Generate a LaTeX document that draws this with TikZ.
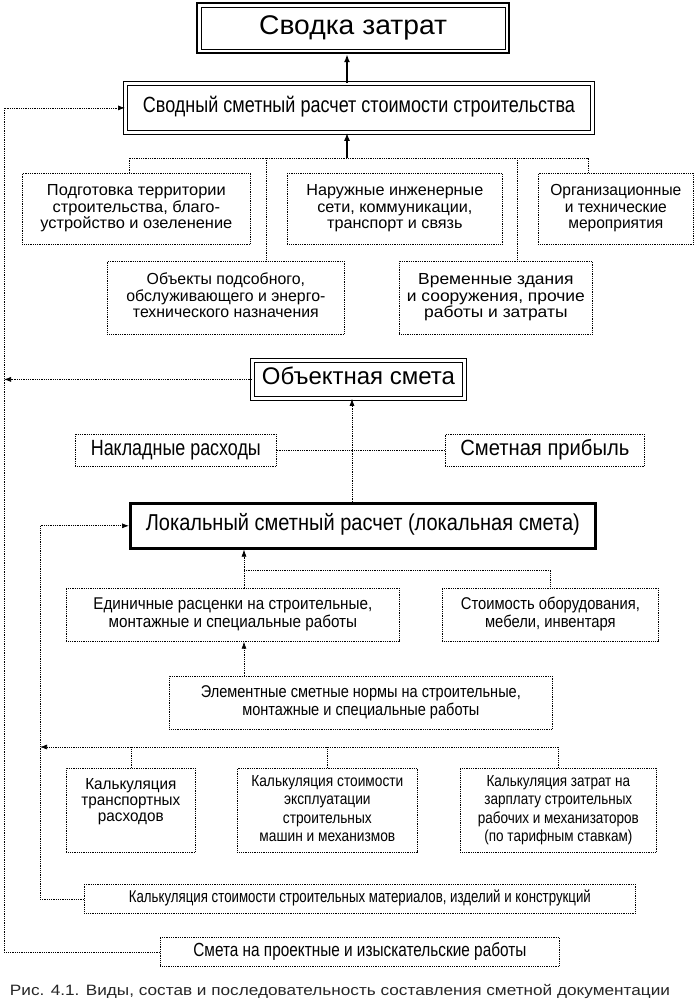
\documentclass[tikz,border=0pt]{standalone}
\usepackage{fontspec}
\setmainfont{Liberation Sans}
\usepackage{graphicx}
\usetikzlibrary{arrows.meta,calc}
\newsavebox\fitbox
\newcommand\fitto[4]{%
 \sbox\fitbox{\fontsize{#2}{#3}\selectfont\begin{tabular}{@{}c@{}}#4\end{tabular}}%
 \pgfmathsetmacro\fitf{#1/\the\wd\fitbox}%
 \scalebox{\fitf}[1]{\usebox\fitbox}}
\tikzset{
 bx/.style={draw=black, line width=0.7pt, dash pattern=on 0.9pt off 0.9pt, fill=white, inner sep=0pt, anchor=north west},
 conn/.style={draw=black, line width=0.7pt, dash pattern=on 0.9pt off 0.9pt},
 tip/.style={-{Latex[length=7pt,width=5pt]}},
 heavy/.style={line width=1.8pt, -{Latex[length=8pt,width=6pt]}},
 dbl/.style={solid, double, double distance=2.6pt, line width=0.8pt},
}
\begin{document}
\begin{tikzpicture}[x=1pt,y=-1pt]
\fill[white] (0,0) rectangle (696,1002);
\useasboundingbox (0,0) rectangle (696,1002);

% top level
\node[bx, solid, line width=2.2pt, minimum width=312pt, minimum height=50pt] (svodka) at (196,2) {\fitto{188}{27}{30}{Сводка затрат}};
\draw[line width=0.9pt] ($(svodka.north west)+(5,5)$) rectangle ($(svodka.south east)+(-5,-5)$);
\node[bx, dbl, minimum width=467pt, minimum height=49pt] (svod) at (125,83) {\fitto{432}{22}{24}{Сводный сметный расчет стоимости строительства}};

\node[bx, minimum width=228pt, minimum height=71pt] (b1) at (22,173) {\fitto{192}{16}{16.5}{Подготовка территории\\строительства, благо-\\устройство и озеленение}};
\node[bx, minimum width=215pt, minimum height=71pt] (b2) at (287,173) {\fitto{177}{16}{16.5}{Наружные инженерные\\сети, коммуникации,\\транспорт и связь}};
\node[bx, minimum width=155pt, minimum height=71pt] (b3) at (538,173) {\fitto{131}{16}{16.5}{Организационные\\и технические\\мероприятия}};
\node[bx, minimum width=237pt, minimum height=73pt] (b4) at (107,261) {\fitto{199}{16}{16.5}{Объекты подсобного,\\обслуживающего и энерго-\\технического назначения}};
\node[bx, minimum width=193pt, minimum height=73pt] (b5) at (399,261) {\fitto{178}{16}{16.5}{Временные здания\\и сооружения, прочие\\работы и затраты}};

\node[bx, dbl, minimum width=212pt, minimum height=38pt] (obj) at (252,360) {\fitto{193}{24}{26}{Объектная смета}};
\node[bx, minimum width=201pt, minimum height=32pt] (nak) at (75,434) {\fitto{170}{22}{24}{Накладные расходы}};
\node[bx, minimum width=199pt, minimum height=32pt] (pri) at (445,434) {\fitto{169}{22}{24}{Сметная прибыль}};
\node[bx, solid, line width=2.6pt, minimum width=465pt, minimum height=45pt] (lok) at (129,502) {\fitto{434}{23}{25}{Локальный сметный расчет (локальная смета)}};

\node[bx, minimum width=333pt, minimum height=53pt] (ed) at (66,588) {\fitto{279}{17}{17}{Единичные расценки на строительные,\\монтажные и специальные работы}};
\node[bx, minimum width=216pt, minimum height=53pt] (st) at (442,588) {\fitto{179}{17}{17}{Стоимость оборудования,\\мебели, инвентаря}};
\node[bx, minimum width=383pt, minimum height=53pt] (el) at (169,676) {\fitto{320}{17}{18}{Элементные сметные нормы на строительные,\\монтажные и специальные работы}};

\node[bx, minimum width=129pt, minimum height=84pt] (kA) at (66,768) {\fitto{99}{16}{16}{Калькуляция\\транспортных\\расходов\\ \\}};
\node[bx, minimum width=180pt, minimum height=84pt] (kB) at (237,768) {\fitto{152}{16}{18.5}{Калькуляция стоимости\\эксплуатации\\строительных\\машин и механизмов}};
\node[bx, minimum width=196pt, minimum height=84pt] (kC) at (460,768) {\fitto{161}{16}{18.5}{Калькуляция затрат на\\зарплату строительных\\рабочих и механизаторов\\(по тарифным ставкам)}};

\node[bx, minimum width=551pt, minimum height=29pt] (mat) at (84,884) {\fitto{462}{17}{19}{Калькуляция стоимости строительных материалов, изделий и конструкций}};
\node[bx, minimum width=399pt, minimum height=29pt] (smeta) at (160,937) {\fitto{333}{19}{21}{Смета на проектные и изыскательские работы}};

\node[inner sep=0pt, text=black!85] (cap) at (340,992) {\fitto{660}{15}{16}{Рис. 4.1. Виды, состав и последовательность составления сметной документации}};

% coordinates
\coordinate (t1) at (129,158);
\coordinate (t2) at (266,158);
\coordinate (tm) at (347,158);
\coordinate (t3) at (517,158);
\coordinate (t4) at (588,158);
\coordinate (lx) at (4,0);
\coordinate (lx2) at (40,0);
\coordinate (mx) at (352,0);
\coordinate (e1) at (244,570);
\coordinate (bb) at (0,747);

% top connectors
\draw[heavy] (tm |- svod.north) -- (tm |- svodka.south);
\draw[heavy] (tm) -- (tm |- svod.south);
\draw[conn] (t1 |- b1.north) -- (t1) -- (t4) -- (t4 |- b3.north);
\draw[conn] (t2) -- (t2 |- b4.north);
\draw[conn] (t3) -- (t3 |- b5.north);

% left feedback lines
\draw[conn,tip] (smeta.west) -| (lx |- svod.west) -- (svod.west);
\draw[conn,tip] (obj.west) -- (lx |- obj.west);
\draw[conn,tip] (mat.west) -| (lx2 |- lok.west) -- (lok.west);

% middle
\draw[conn,tip] (mx |- lok.north) -- (mx |- obj.south);
\draw[conn] (nak.east) -- (pri.west);
\draw[conn,tip] (e1 |- ed.north) -- (e1 |- lok.south);
\draw[conn] (e1) -| (st.north);
\draw[conn,tip] (e1 |- el.north) -- (e1 |- ed.south);

% bottom bus
\draw[conn] (kA.north) -- (kA.north |- bb);
\draw[conn] (kB.north) -- (kB.north |- bb);
\draw[conn,tip] (kC.north) -- (kC.north |- bb) -- (lx2 |- bb);
\end{tikzpicture}
\end{document}
